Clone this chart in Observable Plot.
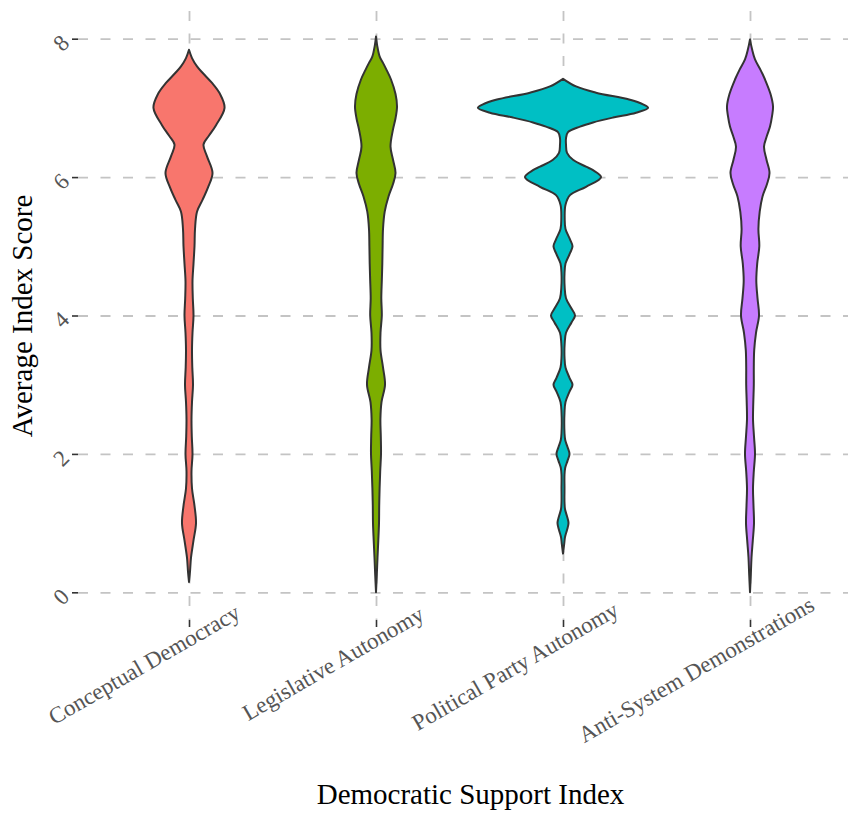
<!DOCTYPE html>
<html>
<head>
<meta charset="utf-8">
<script src="https://cdn.jsdelivr.net/npm/d3@7"></script>
<script src="https://cdn.jsdelivr.net/npm/@observablehq/plot@0.6"></script>
<style>
  body { margin: 0; background: #ffffff; }
  #chart svg { display: block; }
</style>
</head>
<body>
<div id="chart"></div>
<script>
// ---------- data ----------
const categories = ["Conceptual Democracy", "Legislative Autonomy", "Political Party Autonomy", "Anti-System Demonstrations"];
const colors = ["#F8766D", "#7CAE00", "#00BFC4", "#C77CFF"];
const yTicks = [0, 2, 4, 6, 8];
const yTitle = "Average Index Score";
const xTitle = "Democratic Support Index";

// violin profiles: score level and relative density (widest = 85)
const conceptualScore   = [0.15,0.3,0.5,0.75,1.0,1.25,1.5,1.75,2.0,2.25,2.5,2.75,3.0,3.25,3.5,3.75,4.0,4.25,4.5,4.75,5.0,5.25,5.5,5.67,5.85,6.06,6.3,6.47,6.6,6.75,7.0,7.2,7.36,7.5,7.6,7.72,7.84];
const conceptualDensity = [0,1,2,4.5,7,5.5,3,2.5,3.5,2.8,2.5,3,4,3.3,3,3.5,4.5,3.8,3.5,4.5,5.5,6,8,13.5,19,23.5,18,14.5,20,27,35.5,31,23,14,8,3,0];

const legislativeScore   = [0,0.25,0.5,0.75,1.0,1.25,1.5,1.75,2.0,2.25,2.5,2.75,3.0,3.25,3.5,3.75,4.0,4.25,4.5,4.75,5.0,5.25,5.5,5.72,5.9,6.06,6.25,6.44,6.69,6.85,7.02,7.2,7.41,7.55,7.65,7.74,7.9,8.03];
const legislativeDensity = [0,0.8,1.5,2.3,3,3.2,3.6,4.2,5,4.8,4.4,5.5,9,7,4.5,4.5,5.8,5.3,5.8,6.3,6.6,7,8.7,12.5,17,19.5,17,14.5,17,19.5,21,19.5,15,10.5,7,3.7,1.2,0];

const partyScore   = [0.56,0.7,0.8,0.9,1.0,1.1,1.2,1.3,1.5,1.7,1.8,1.9,2.0,2.1,2.2,2.3,2.6,2.75,2.9,3.0,3.1,3.25,3.4,3.6,3.75,3.9,4.0,4.1,4.25,4.4,4.6,4.75,4.9,5.0,5.1,5.25,5.4,5.6,5.74,5.86,6.0,6.1,6.15,6.25,6.35,6.47,6.56,6.65,6.73,6.79,6.86,6.93,7.0,7.05,7.12,7.22,7.31,7.42];
const partyDensity = [0,1.2,2,4,5.5,4,2,1.5,1.5,1.5,2.2,4.5,6.5,4.5,2.2,1.5,1.5,2.5,6.5,9.5,6.5,2.5,1.5,1.7,3,8.5,12,8.5,3,1.7,1.5,2.5,7,9.5,7,2.5,1.7,2.5,7,23,38,30,23,10,4,3,3,5,17,30,50,73,85,80,66,33,13,0];

const antiScore   = [0,0.25,0.5,0.75,1.0,1.25,1.5,1.75,2.0,2.25,2.5,2.75,3.0,3.25,3.5,3.75,4.0,4.25,4.5,4.75,5.0,5.25,5.5,5.72,5.9,6.06,6.25,6.44,6.6,6.73,6.88,7.02,7.2,7.41,7.55,7.7,7.85,7.99];
const antiDensity = [0,0.8,1.5,2.8,4,3.5,3,3.8,5,4,3,3.3,3.8,3.8,4.2,6,9,7.5,6.3,7.2,9.3,8.4,9.7,12.5,17,19.5,16.5,14,17,20,22,23,20.5,15,10.5,5,2,0];

// ---------- build table ----------
const profiles = [
  {scores: conceptualScore,  dens: conceptualDensity},
  {scores: legislativeScore, dens: legislativeDensity},
  {scores: partyScore,       dens: partyDensity},
  {scores: antiScore,        dens: antiDensity}
];
const densityMax = 85;
const maxHalfWidth = 0.455; // in category units (ggplot violin width 0.9)
const rows = profiles.flatMap((p, i) => p.scores.map((s, j) => ({
  cat: categories[i],
  idx: i + 1,
  score: s,
  half: p.dens[j] / densityMax * maxHalfWidth
})));
const catIdx = categories.map((c, i) => i + 1);

const serif = "'Liberation Serif', 'Times New Roman', Times, serif";
const gridStyle = {stroke: "#c4c4c4", strokeOpacity: 1, strokeWidth: 1.8, strokeDasharray: "10 12.5"};

const plot = Plot.plot({
  width: 848,
  height: 819,
  marginLeft: 78,
  marginRight: 0,
  marginTop: 11,
  marginBottom: 199,
  style: {fontFamily: serif, background: "#ffffff", overflow: "visible"},
  x: {domain: [1, 4], range: [189, 750]},
  y: {domain: [-0.4, 8.4]},
  color: {domain: categories, range: colors},
  marks: [
    Plot.gridY(yTicks, gridStyle),
    Plot.gridX(catIdx, gridStyle),
    Plot.areaX(rows, {
      y: "score",
      x1: d => d.idx - d.half,
      x2: d => d.idx + d.half,
      z: "cat",
      fill: "cat",
      stroke: "#333333",
      strokeWidth: 2,
      strokeLinejoin: "round",
      curve: "catmull-rom"
    }),
    Plot.axisY(yTicks, {tickSize: 6, tickFormat: () => "", color: "#333333", strokeWidth: 1.6, label: null}),
    Plot.axisX(catIdx, {tickSize: 7, tickFormat: () => "", color: "#333333", strokeWidth: 1.6, label: null}),
    Plot.text(yTicks, {
      y: d => d, text: d => String(d), frameAnchor: "left", dx: -13,
      rotate: -45, textAnchor: "end", fontSize: 23, fill: "#555555"
    }),
    Plot.text(categories, {
      x: (d, i) => i + 1, text: d => d, frameAnchor: "bottom", dx: -4, dy: 29,
      rotate: -30, textAnchor: "middle", fontSize: 23, fill: "#555555"
    }),
    Plot.text([yTitle], {
      text: d => d, frameAnchor: "left", dx: -56, rotate: -90,
      textAnchor: "middle", fontSize: 29, fill: "#000000"
    }),
    Plot.text([xTitle], {
      text: d => d, frameAnchor: "bottom", dx: 7, dy: 183,
      textAnchor: "middle", fontSize: 29, fill: "#000000"
    })
  ]
});

document.getElementById("chart").append(plot);
// mimic ggplot hjust ~0.7 on the rotated category labels
d3.select(plot).selectAll("text")
  .filter(function () { return categories.includes(this.textContent); })
  .each(function () {
    const L = this.getComputedTextLength();
    d3.select(this).attr("dx", -0.2 * L);
  });
</script>
</body>
</html>
